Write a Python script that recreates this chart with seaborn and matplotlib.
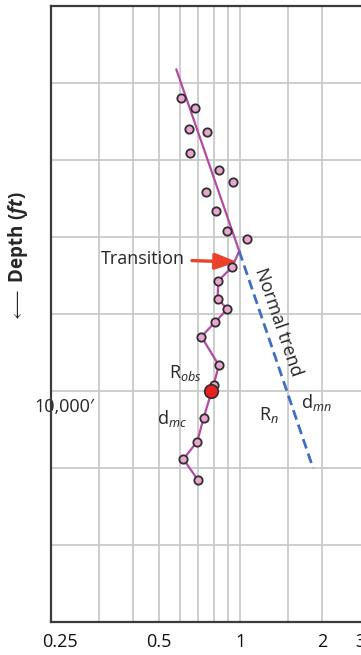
import numpy as np
import pandas as pd
import matplotlib
matplotlib.use("Agg")
import matplotlib.pyplot as plt
import matplotlib.transforms as mtransforms
import seaborn as sns

# ---------------- data ----------------
# shallow (normally pressured) d-exponent readings
upper_r = [0.605, 0.678, 0.645, 0.751, 0.652, 0.834, 0.939, 0.749, 0.816, 0.894, 1.055]
upper_depth = [6191, 6321, 6591, 6640, 6905, 7136, 7292, 7413, 7662, 7925, 8026]

# deeper (transition / overpressured) readings, connected
lower_r = [0.931, 0.829, 0.824, 0.895, 0.807, 0.718, 0.833, 0.797, 0.732, 0.693, 0.616, 0.696]
lower_depth = [8394, 8568, 8799, 8938, 9104, 9295, 9666, 9918, 10348, 10656, 10886, 11152]

# fitted trend: solid part above the break, dashed "normal trend" below
trend_r = [0.580, 0.990]
trend_depth = [5822, 8182]
normal_r = [0.990, 1.856]
normal_depth = [8182, 11004]

# R_obs point at 10,000 ft
obs_r = [0.776]
obs_depth = [10000]

x_grid = [0.3, 0.4, 0.5, 0.6, 0.7, 0.8, 0.9, 1, 1.5, 2, 3]
x_ticks = [0.25, 0.5, 1, 2, 3]
x_ticklabels = ["0.25", "0.5", "1", "2", "3"]
y_grid = [5000, 6000, 7000, 8000, 9000, 10000, 11000, 12000, 13000]

# ---------------- style ----------------
sns.set_style("white")
FONT = ["Open Sans", "DejaVu Sans"]
plt.rcParams["font.family"] = FONT
plt.rcParams["mathtext.fontset"] = "custom"
plt.rcParams["mathtext.rm"] = "Open Sans"
plt.rcParams["mathtext.it"] = "Open Sans:italic"
plt.rcParams["mathtext.bf"] = "Open Sans:bold"
plt.rcParams["mathtext.fallback"] = "stixsans"
try:
    plt.rcParams["mathtext.bfit"] = "Open Sans:italic:bold"
except KeyError:
    pass

W, H = 361, 655
fig = plt.figure(figsize=(W / 100, H / 100), dpi=100)
ax = fig.add_axes([51 / W, 1 - 622 / H, 352.5 / W, 616 / H])
ax.set_xscale("log")

MAG = "#b44aa3"
PINK = "#eaa6cf"
EDGE = "#2e2e2e"
BLUE = "#3f6fc2"
RED = "#e8231f"

sns.lineplot(x=trend_r, y=trend_depth, sort=False, estimator=None, ax=ax,
             color=MAG, lw=1.6, zorder=3)
sns.lineplot(x=[trend_r[-1]] + lower_r, y=[trend_depth[-1]] + lower_depth,
             sort=False, estimator=None, ax=ax, color=MAG, lw=1.6, zorder=3)
sns.lineplot(x=normal_r, y=normal_depth, sort=False, estimator=None, ax=ax,
             color=BLUE, lw=2.0, zorder=3, dashes=False)
ax.lines[-1].set_dashes([3.6, 1.9])

sns.scatterplot(x=upper_r + lower_r, y=upper_depth + lower_depth, ax=ax,
                color=PINK, edgecolor=EDGE, linewidth=1.3, s=36, zorder=4)
sns.scatterplot(x=obs_r, y=obs_depth, ax=ax, color=RED, edgecolor=EDGE,
                linewidth=1.2, s=95, zorder=5)

ax.set_xlim(0.2, 4)
ax.set_ylim(13000, 5000)

# grid
ax.xaxis.remove_overlapping_locs = False
ax.set_xticks(x_grid, minor=True)
ax.set_xticks(x_ticks)
ax.set_xticklabels(x_ticklabels, fontsize=13)
ax.tick_params(axis="x", which="minor", length=0, labelbottom=False)
ax.tick_params(axis="x", which="major", length=0, pad=8, colors="#111111")
ax.grid(False)
ax.xaxis.grid(True, which="minor", color="#c9c9c9", lw=1.3)
ax.set_yticks(y_grid)
ax.set_yticklabels([])
ax.tick_params(axis="y", length=4, color="#d0d0d0", width=1)
ax.yaxis.grid(True, color="#c9c9c9", lw=1.3)
ax.set_axisbelow(True)
ax.set_xlabel("")
ax.set_ylabel("")

labs = ax.get_xticklabels()
labs[0].set_horizontalalignment("right")
labs[-1].set_transform(labs[-1].get_transform() + mtransforms.ScaledTranslation(-9 / 100, 0, fig.dpi_scale_trans))

for s in ["left", "bottom", "top", "right"]:
    ax.spines[s].set_color("#3a3a3a")
    ax.spines[s].set_linewidth(1.6)

# annotations
TS = 13
ax.text(0.224, 10208, "10,000\u2032", fontsize=TS, ha="center", va="center",
        clip_on=False, zorder=1)
ax.text(0.628, 9766, r"R$_{\mathit{obs}}$", fontsize=TS, ha="center", va="center")
ax.text(0.557, 10351, r"d$_{\mathit{mc}}$", fontsize=TS, ha="center", va="center")
ax.text(1.272, 10312, r"R$_{\mathit{n}}$", fontsize=TS, ha="center", va="center")
ax.text(1.915, 10143, r"d$_{\mathit{mn}}$", fontsize=TS, ha="center", va="center")
ax.text(1.374, 9104, "Normal trend", fontsize=TS, ha="center", va="center",
        rotation=-71, rotation_mode="anchor")
ax.annotate("Transition", xy=(0.975, 8325), xytext=(0.622, 8286),
            fontsize=TS, ha="right", va="center",
            arrowprops=dict(arrowstyle="-|>,head_length=0.9,head_width=0.33",
                            color="#e9432b", lw=2.4, shrinkA=3, shrinkB=0,
                            mutation_scale=15))

fig.text(18 / W, 1 - 257 / H, r"$\longleftarrow$ Depth ($\mathbfit{ft}$)",
         rotation=90, ha="center", va="center", fontsize=13.5, fontweight="bold",
         family=FONT)

fig.savefig("out.png", dpi=100)
